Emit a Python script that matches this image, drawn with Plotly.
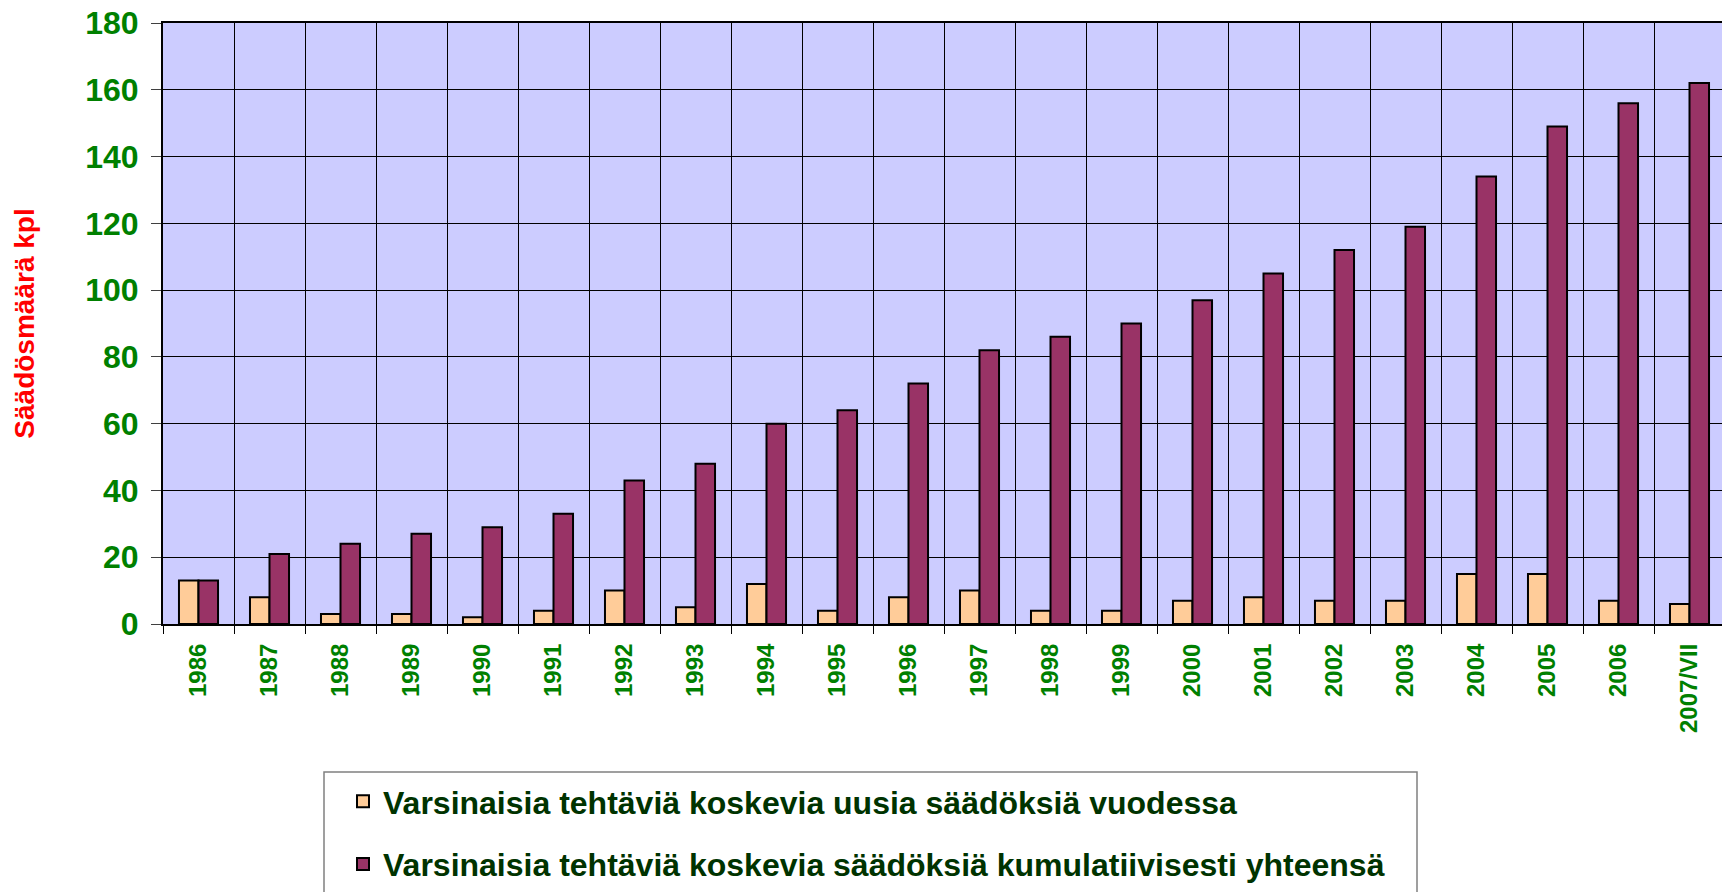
import plotly.graph_objects as go

categories = ["1986", "1987", "1988", "1989", "1990", "1991", "1992", "1993", "1994", "1995",
              "1996", "1997", "1998", "1999", "2000", "2001", "2002", "2003", "2004", "2005",
              "2006", "2007/VII"]
new_per_year = [13, 8, 3, 3, 2, 4, 10, 5, 12, 4, 8, 10, 4, 4, 7, 8, 7, 7, 15, 15, 7, 6]
cumulative = [13, 21, 24, 27, 29, 33, 43, 48, 60, 64, 72, 82, 86, 90, 97, 105, 112, 119, 134, 149, 156, 162]
series_names = ["Varsinaisia tehtäviä koskevia uusia säädöksiä vuodessa",
                "Varsinaisia tehtäviä koskevia säädöksiä kumulatiivisesti yhteensä"]
y_title = "Säädösmäärä kpl"

OFF = 0  # body margin removed by post_script
W, H = 1722 - OFF, 892 - OFF
L, T = 163 - OFF, 23 - OFF
PLOT_BOTTOM = 624 - OFF
B = H - PLOT_BOTTOM
PW = W - L
PH = PLOT_BOTTOM - T
CAT_PX = 71.0

FONT = "Arial, Liberation Sans, sans-serif"

fig = go.Figure()
fig.add_trace(go.Bar(x=categories, y=new_per_year, name=series_names[0], legendgroup="a",
                     marker=dict(color="#FFCC99", line=dict(color="#000000", width=2))))
fig.add_trace(go.Bar(x=categories, y=cumulative, name=series_names[1], legendgroup="b",
                     marker=dict(color="#993366", line=dict(color="#000000", width=2))))

def px_x(page_px):
    return (page_px - OFF - L) / PW

def px_y(page_py):
    return (PLOT_BOTTOM - (page_py - OFF)) / PH

# legend frame (extends below the page like the reference)
fig.add_shape(type="rect", xref="paper", yref="paper",
              x0=px_x(324), x1=px_x(1417), y0=px_y(905), y1=px_y(772),
              line=dict(color="#808080", width=1.5), fillcolor="rgba(255,255,255,0)", layer="above")

fig.update_layout(
    width=W, height=H,
    margin=dict(l=L, r=0, t=T, b=B, autoexpand=False),
    paper_bgcolor="white",
    plot_bgcolor="#CCCCFF",
    barmode="group",
    bargap=0.45,
    bargroupgap=0,
    showlegend=True,
    legend=dict(
        x=px_x(343), y=px_y(774), xanchor="left", yanchor="top",
        font=dict(family=FONT, size=32, color="#003300", weight="bold"),
        bgcolor="rgba(255,255,255,0)", borderwidth=0,
        traceorder="grouped", tracegroupgap=18,
        itemclick=False, itemdoubleclick=False,
    ),
    xaxis=dict(
        type="category",
        range=[-0.5, -0.5 + PW / CAT_PX],
        tickson="boundaries",
        ticks="outside", ticklen=8, tickcolor="#000000", tickwidth=1,
        showgrid=True, gridcolor="#000000", gridwidth=1,
        showline=True, linecolor="#000000", linewidth=2, mirror=True,
        tickangle=-90,
        tickfont=dict(family=FONT, size=24, color="#008000", weight="bold"),
        ticklabelstandoff=8,
        ticklabeloverflow="allow",
        zeroline=False,
    ),
    yaxis=dict(
        range=[0, 180], dtick=20, tick0=0,
        ticks="outside", ticklen=10, tickcolor="#404040", tickwidth=1,
        showgrid=True, gridcolor="#000000", gridwidth=1,
        showline=True, linecolor="#000000", linewidth=2,
        tickfont=dict(family=FONT, size=32, color="#008000", weight="bold"),
        ticklabelstandoff=6,
        ticklabeloverflow="allow",
        zeroline=False,
        title=dict(text=y_title, font=dict(family=FONT, size=28, color="#FF0000", weight="bold"),
                   standoff=42),
    ),
)

fig.write_html("out.html", config={"displayModeBar": False},
               post_script="document.body.style.margin='0';")
